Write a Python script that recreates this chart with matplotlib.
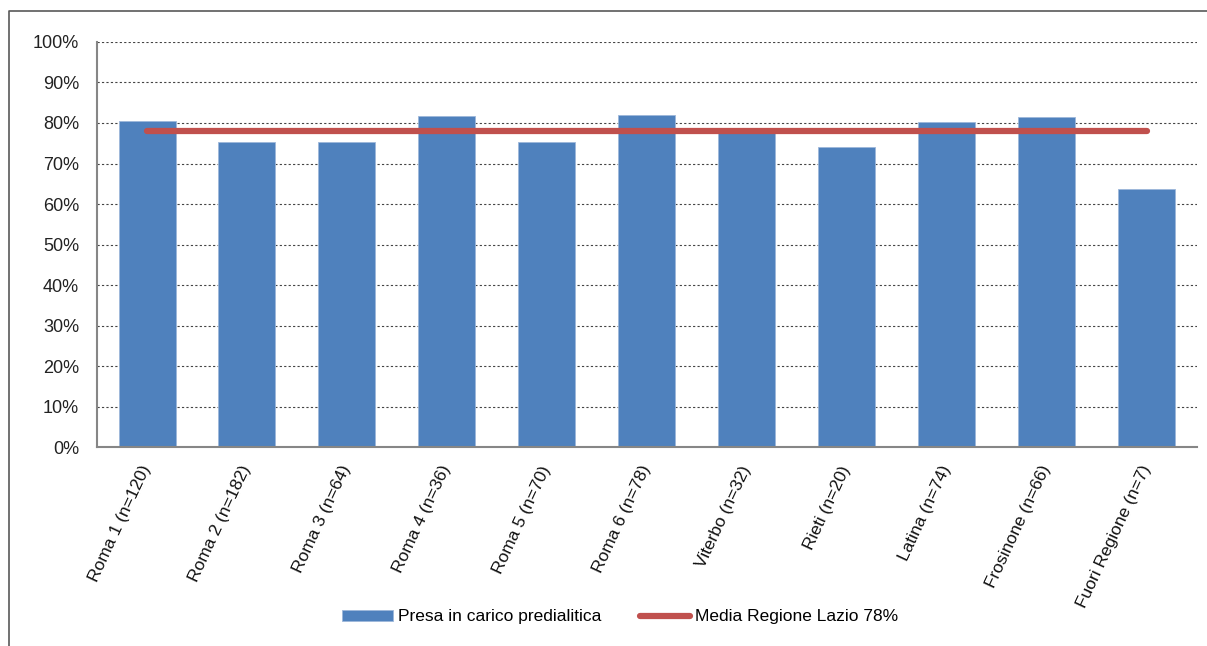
import numpy as np
import matplotlib
matplotlib.use("Agg")
import matplotlib.pyplot as plt
from matplotlib.lines import Line2D

plt.rcParams['font.family'] = ['Liberation Sans', 'DejaVu Sans']

# data
categories = ['Roma 1 (n=120)', 'Roma 2 (n=182)', 'Roma 3 (n=64)', 'Roma 4 (n=36)',
              'Roma 5 (n=70)', 'Roma 6 (n=78)', 'Viterbo (n=32)', 'Rieti (n=20)',
              'Latina (n=74)', 'Frosinone (n=66)', 'Fuori Regione (n=7)']
presa = [80.5, 75.2, 75.3, 81.7, 75.2, 82.0, 77.5, 74.1, 80.3, 81.4, 63.6]
media = [78] * len(categories)
yticks = np.arange(0, 101, 10)

fig = plt.figure(figsize=(12.07, 6.46), dpi=100)
ax = fig.add_axes([0.0804, 0.308, 0.911, 0.627])

x = np.arange(len(categories))
bars = ax.bar(x, presa, width=0.57, color='#4F81BD', edgecolor='#9DB7DA', linewidth=0.6,
              label='Presa in carico predialitica', zorder=2)
line, = ax.plot(x, media, color='#C0504D', linewidth=4.5, solid_capstyle='round',
                label='Media Regione Lazio 78%', zorder=3)

ax.set_xlim(-0.5, len(categories) - 0.5)
ax.set_ylim(0, 100)
ax.set_yticks(yticks)
ax.set_yticklabels([f'{v}%' for v in yticks], fontsize=13, color='#222222')
ax.set_xticks(x)
ax.set_xticklabels(categories, rotation=65, ha='right', va='center',
                   rotation_mode='anchor', fontsize=12.5, color='#111111')
ax.tick_params(axis='y', length=0, pad=13)
ax.tick_params(axis='x', length=0, pad=14)

# dashed grid
for v in yticks[1:]:
    ax.axhline(v, color='#444444', linewidth=0.8, linestyle=(0, (2, 2)), zorder=1)

for s in ['top', 'right']:
    ax.spines[s].set_visible(False)
for s in ['left', 'bottom']:
    ax.spines[s].set_color('#868686')
    ax.spines[s].set_linewidth(1.5)

fig.legend([bars, line], ['Presa in carico predialitica', 'Media Regione Lazio 78%'],
           loc='center', bbox_to_anchor=(0.514, 0.045), ncol=2, frameon=False,
           fontsize=12.5, handlelength=2.9, handleheight=0.55, columnspacing=2.2,
           handletextpad=0.3)

# outer frame (left and top edge visible)
fig.add_artist(Line2D([9 / 1207, 9 / 1207, 1.0], [0.0, 1 - 11 / 646, 1 - 11 / 646],
                      transform=fig.transFigure, color='#595959', linewidth=1.2))

fig.savefig('out.png', dpi=100)
